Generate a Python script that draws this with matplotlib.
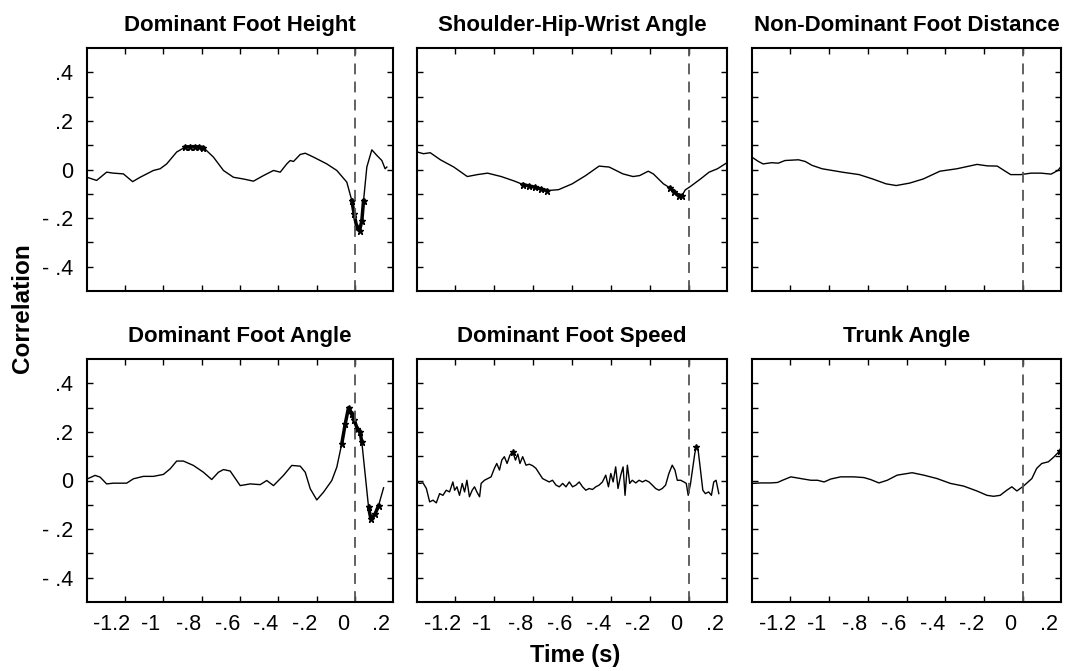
import matplotlib
matplotlib.use("Agg")
import matplotlib.pyplot as plt
import numpy as np

plt.rcParams['font.family'] = ['Liberation Sans', 'DejaVu Sans']

# ---- data (time in s, correlation) ----
titles = ['Dominant Foot Height', 'Shoulder-Hip-Wrist Angle', 'Non-Dominant Foot Distance',
          'Dominant Foot Angle', 'Dominant Foot Speed', 'Trunk Angle']

foot_height_t = [-1.33, -1.28, -1.228, -1.193, -1.141, -1.093, -1.054, -0.985, -0.95, -0.916,
                 -0.864, -0.82, -0.795, -0.77, -0.748, -0.725, -0.673, -0.621, -0.569, -0.517,
                 -0.465, -0.413, -0.361, -0.326, -0.292, -0.274, -0.257, -0.222, -0.196, -0.153,
                 -0.084, -0.032, 0.02, 0.046, 0.058, 0.072, 0.086, 0.098, 0.107, 0.124,
                 0.15, 0.176, 0.202, 0.219, 0.228]
foot_height_r = [-0.032, -0.045, -0.011, -0.015, -0.018, -0.050, -0.032, -0.004, 0.003, 0.023,
                 0.072, 0.092, 0.094, 0.094, 0.093, 0.090, 0.051, -0.004, -0.032, -0.039,
                 -0.048, -0.025, -0.004, -0.011, 0.023, 0.037, 0.033, 0.062, 0.067, 0.051,
                 0.023, -0.004, -0.052, -0.128, -0.183, -0.238, -0.252, -0.211, -0.128, 0.010,
                 0.081, 0.058, 0.037, 0.003, 0.010]

shw_angle_t = [-1.328, -1.297, -1.262, -1.210, -1.141, -1.072, -1.020, -0.968, -0.898, -0.829,
               -0.786, -0.755, -0.725, -0.695, -0.664, -0.604, -0.534, -0.465, -0.396, -0.344,
               -0.274, -0.222, -0.188, -0.144, -0.118, -0.066, -0.032, -0.010, 0.012, 0.029,
               0.046, 0.072, 0.124, 0.168, 0.211, 0.26]
shw_angle_r = [0.072, 0.065, 0.069, 0.040, 0.010, -0.029, -0.021, -0.015, -0.029, -0.048,
               -0.062, -0.068, -0.073, -0.080, -0.087, -0.083, -0.059, -0.025, 0.014, 0.010,
               -0.018, -0.029, -0.025, -0.007, -0.018, -0.059, -0.076, -0.092, -0.107, -0.107,
               -0.084, -0.070, -0.039, -0.011, 0.003, 0.028]

nd_foot_dist_t = [-1.325, -1.299, -1.273, -1.229, -1.195, -1.160, -1.091, -1.056, -1.021, -0.969,
                  -0.917, -0.865, -0.779, -0.709, -0.640, -0.588, -0.519, -0.449, -0.363, -0.276,
                  -0.172, -0.120, -0.068, -0.033, 0.001, 0.053, 0.105, 0.157, 0.209, 0.244, 0.258]
nd_foot_dist_r = [0.048, 0.034, 0.023, 0.028, 0.026, 0.037, 0.040, 0.033, 0.017, 0.003,
                  -0.004, -0.011, -0.021, -0.039, -0.059, -0.066, -0.056, -0.039, -0.007, 0.003,
                  0.021, 0.015, 0.014, -0.004, -0.021, -0.021, -0.015, -0.015, -0.019, -0.004, 0.010]

foot_angle_t = [-1.327, -1.288, -1.262, -1.228, -1.193, -1.124, -1.089, -1.037, -0.985, -0.933,
                -0.898, -0.864, -0.829, -0.777, -0.725, -0.682, -0.647, -0.621, -0.586, -0.534,
                -0.482, -0.430, -0.396, -0.361, -0.335, -0.309, -0.266, -0.222, -0.196, -0.170,
                -0.136, -0.101, -0.058, -0.032, -0.006, 0.012, 0.029, 0.046, 0.058, 0.075,
                0.089, 0.098, 0.115, 0.133, 0.145, 0.167, 0.185, 0.211]
foot_angle_r = [0.007, 0.021, 0.014, -0.014, -0.011, -0.011, 0.007, 0.017, 0.017, 0.025,
                0.048, 0.080, 0.080, 0.062, 0.034, 0.004, 0.034, 0.045, 0.039, -0.021,
                -0.014, -0.017, 0.000, -0.021, 0.000, 0.021, 0.062, 0.059, 0.034, -0.034,
                -0.080, -0.048, 0.000, 0.055, 0.152, 0.234, 0.300, 0.275, 0.248, 0.213,
                0.200, 0.158, 0.028, -0.110, -0.158, -0.138, -0.103, -0.030]

foot_speed_t = [-1.329, -1.316, -1.299, -1.282, -1.265, -1.248, -1.231, -1.214, -1.197, -1.180,
                -1.163, -1.146, -1.137, -1.125, -1.112, -1.098, -1.086, -1.074, -1.061, -1.047,
                -1.035, -1.023, -1.009, -1.001, -0.984, -0.967, -0.950, -0.933, -0.921, -0.907,
                -0.895, -0.882, -0.868, -0.853, -0.839, -0.825, -0.813, -0.802, -0.788, -0.771,
                -0.754, -0.737, -0.720, -0.703, -0.686, -0.669, -0.652, -0.635, -0.617, -0.600,
                -0.583, -0.566, -0.549, -0.532, -0.515, -0.498, -0.481, -0.464, -0.447, -0.430,
                -0.413, -0.396, -0.379, -0.362, -0.348, -0.336, -0.324, -0.311, -0.299, -0.285,
                -0.273, -0.263, -0.251, -0.239, -0.226, -0.208, -0.191, -0.174, -0.157, -0.140,
                -0.123, -0.106, -0.089, -0.072, -0.055, -0.038, -0.021, -0.007, 0.005, 0.022,
                0.039, 0.051, 0.061, 0.073, 0.085, 0.095, 0.103, 0.112, 0.124, 0.136,
                0.149, 0.166, 0.180, 0.192, 0.204, 0.218]
foot_speed_r = [-0.006, -0.012, -0.010, -0.033, -0.088, -0.081, -0.092, -0.054, -0.061, -0.040,
                -0.047, -0.006, -0.040, -0.026, -0.061, -0.012, -0.047, 0.001, -0.067, -0.040,
                -0.026, -0.047, -0.067, -0.012, 0.001, 0.008, 0.015, 0.050, 0.070, 0.043,
                0.084, 0.098, 0.070, 0.105, 0.118, 0.084, 0.109, 0.070, 0.098, 0.063,
                0.067, 0.061, 0.050, 0.029, 0.008, 0.001, -0.006, 0.001, -0.019, -0.026,
                -0.012, -0.026, -0.006, -0.026, -0.019, -0.006, -0.026, -0.040, -0.033, -0.037,
                -0.026, -0.019, -0.006, 0.022, -0.026, 0.029, -0.006, 0.056, -0.033, 0.022,
                0.056, -0.061, 0.063, -0.012, 0.001, -0.010, 0.001, -0.006, 0.001, -0.006,
                -0.019, -0.033, -0.040, -0.033, -0.019, 0.029, 0.063, 0.043, 0.001, 0.001,
                -0.006, -0.012, -0.061, -0.012, 0.056, 0.112, 0.139, 0.125, 0.043, -0.040,
                -0.054, -0.047, -0.061, -0.006, 0.001, -0.054]

trunk_angle_t = [-1.327, -1.284, -1.233, -1.198, -1.173, -1.130, -1.079, -1.027, -0.993, -0.959,
                 -0.925, -0.874, -0.805, -0.754, -0.720, -0.677, -0.634, -0.583, -0.506, -0.446,
                 -0.378, -0.309, -0.241, -0.173, -0.121, -0.087, -0.053, -0.019, 0.007, 0.033,
                 0.067, 0.110, 0.135, 0.161, 0.195, 0.221, 0.255]
trunk_angle_r = [-0.012, -0.010, -0.010, -0.008, 0.001, 0.015, 0.008, 0.001, 0.001, -0.006,
                 0.006, 0.015, 0.015, 0.012, 0.004, -0.010, 0.001, 0.022, 0.032, 0.022,
                 0.008, -0.012, -0.023, -0.043, -0.061, -0.065, -0.061, -0.040, -0.026, -0.043,
                 -0.023, 0.008, 0.050, 0.070, 0.077, 0.095, 0.123]

series = [(foot_height_t, foot_height_r), (shw_angle_t, shw_angle_r),
          (nd_foot_dist_t, nd_foot_dist_r), (foot_angle_t, foot_angle_r),
          (foot_speed_t, foot_speed_r), (trunk_angle_t, trunk_angle_r)]

# time windows with significant correlation (marked with stars)
significant = [[(-0.82, -0.725), (0.04, 0.11)],
               [(-0.79, -0.66), (-0.035, 0.03)],
               [],
               [(-0.01, 0.10), (0.13, 0.19)],
               [(-0.84, -0.838), (0.10, 0.105)],
               [(0.25, 0.26)]]

contact_time = 0.065
xlabel_vals = [-1.2, -1.0, -0.8, -0.6, -0.4, -0.2, 0.0, 0.2]
xlabel_txt = ['-1.2', '-1', '-.8', '-.6', '-.4', '-.2', '0', '.2']
ytick_vals = [-0.4, -0.2, 0.0, 0.2, 0.4]
ytick_txt = ['- .4', '- .2', '0', '.2', '.4']

# ---- layout (pixels) ----
W, H = 1068, 671
fig = plt.figure(figsize=(W / 100, H / 100), dpi=100)
col_left = [87, 417, 752]
col_width = [306, 310, 309]
row_top = [48, 359]
ax_h = 243

for i, (t, r) in enumerate(series):
    row, col = divmod(i, 3)
    l, wdt, top = col_left[col], col_width[col], row_top[row]
    ax = fig.add_axes([l / W, 1 - (top + ax_h) / H, wdt / W, ax_h / H])
    t = np.array(t)
    r = np.array(r)
    ax.plot(t, r, color='black', lw=1.0)
    for a, b in significant[i]:
        m = (t >= a) & (t <= b)
        ax.plot(t[m], r[m], color='black', lw=2.5, marker='*', ms=5)
    ax.axvline(contact_time, color='#555555', lw=1.3, dashes=(6, 4))

    ax.set_xlim(-1.33, 0.26)
    ax.set_ylim(-0.5, 0.5)
    ax.set_xticks(xlabel_vals)
    ax.set_xticks([v + contact_time for v in xlabel_vals[:-1]], minor=True)
    ax.set_yticks(ytick_vals)
    ax.set_yticks([-0.3, -0.1, 0.1, 0.3], minor=True)
    ax.tick_params(axis='x', which='major', length=0, pad=9, labelsize=15.5)
    ax.tick_params(axis='x', which='minor', length=4, width=1, direction='in',
                   top=True, bottom=True)
    ax.tick_params(axis='y', which='both', length=4, width=1, direction='in',
                   left=True, right=True, pad=10, labelsize=15.5)
    if row == 1:
        ax.set_xticklabels(xlabel_txt)
    else:
        ax.set_xticklabels([])
    if col == 0:
        ax.set_yticklabels(ytick_txt)
    else:
        ax.set_yticklabels([])
    for s in ax.spines.values():
        s.set_linewidth(1.5)
    ax.set_title(titles[i], fontsize=16, fontweight='bold', pad=12.5)

fig.text(23 / W, 1 - 308 / H, 'Correlation', rotation=90, fontsize=17.5,
         fontweight='bold', ha='center', va='center')
fig.text(575 / W, 1 - 662 / H, 'Time (s)', fontsize=17, fontweight='bold',
         ha='center', va='baseline')

fig.savefig('out.png', dpi=100)
